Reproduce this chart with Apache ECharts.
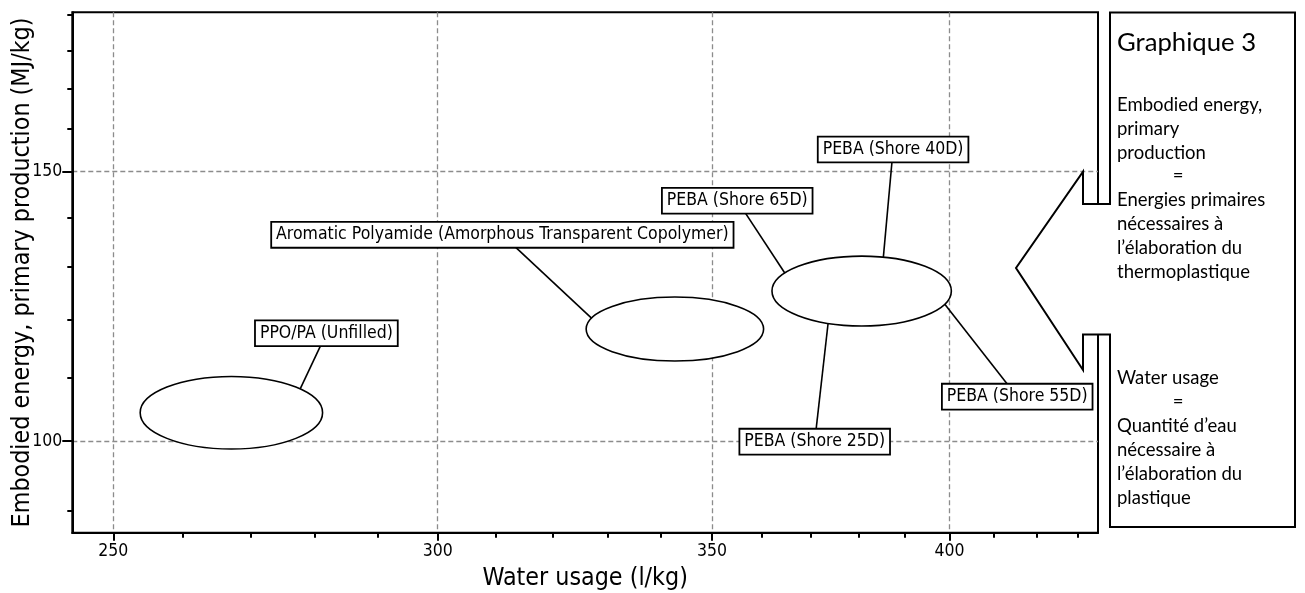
<!DOCTYPE html>
<html><head><meta charset="utf-8">
<script src="https://cdn.jsdelivr.net/npm/echarts@6/dist/echarts.min.js"></script>
<style>html,body{margin:0;padding:0;background:#fff}#c{width:1305px;height:593px}</style>
</head><body><div id="c"></div><script>
// ---------- data ----------
const materials = ['PPO/PA (Unfilled)', 'Aromatic Polyamide (Amorphous Transparent Copolymer)', 'PEBA'];
const waterLow   = [253.8, 326.1, 362.0];
const waterHigh  = [281.2, 360.3, 400.4];
const energyLow  = [98.8, 112.8, 118.9];
const energyHigh = [110.2, 124.2, 132.1];

const labelTexts = ['PPO/PA (Unfilled)', 'Aromatic Polyamide (Amorphous Transparent Copolymer)',
  'PEBA (Shore 40D)', 'PEBA (Shore 65D)', 'PEBA (Shore 55D)', 'PEBA (Shore 25D)'];
const labelMaterial = [0, 1, 2, 2, 2, 2];
const labelWater  = [281.8, 311.1, 387.5, 355.0, 415.5, 370.8];
const labelEnergy = [117.6, 136.4, 155.1, 143.6, 106.9, 99.9];

const xMajorTicks = [250, 300, 350, 400];
const xMinorTicks = [260, 270, 280, 290, 310, 320, 330, 340, 360, 370, 380, 390, 410, 420, 430];
const yMajorTicks = [100, 150];
const yMinorTicks = [90, 110, 120, 130, 140, 160, 170, 180, 190];
const xRange = [244.3, 434.8];
const yRange = [87.1, 190.7];

const xTitle = 'Water usage (l/kg)';
const yTitle = 'Embodied energy, primary production (MJ/kg)';
const panelTitle = 'Graphique 3';
const panelTop = ['Embodied energy,', 'primary', 'production', '=', 'Energies primaires', 'nécessaires à', 'l\u2019élaboration du', 'thermoplastique'];
const panelBottom = ['Water usage', '=', 'Quantité d\u2019eau', 'nécessaire à', 'l\u2019élaboration du', 'plastique'];

// ---------- layout / style ----------
const leaderAngle = [41, 160, 76, 149, -22, 248]; // attach angle on ellipse, degrees
const FONT = "'DejaVu Sans Condensed', 'DejaVu Sans', sans-serif";
const PFONT = "Lato, 'Open Sans', sans-serif";

function ellipseGeom(api, i) {
  const a = api.coord([waterLow[i], energyLow[i]]);
  const b = api.coord([waterHigh[i], energyHigh[i]]);
  return { cx: (a[0] + b[0]) / 2, cy: (a[1] + b[1]) / 2, rx: Math.abs(b[0] - a[0]) / 2, ry: Math.abs(b[1] - a[1]) / 2 };
}

const chart = echarts.init(document.getElementById('c'), null, { renderer: 'canvas' });

const dashed = { show: true, lineStyle: { color: '#8c8c8c', width: 1.3, type: [5, 3] } };

function panelText(lines, y0, step) {
  return lines.map((t, k) => ({
    type: 'text', z: 101,
    x: t === '=' ? 1178 : 1117, y: y0 + k * step,
    style: { text: t, fontSize: 18.5, fontFamily: PFONT, fill: '#000', align: t === '=' ? 'center' : 'left', verticalAlign: 'middle' }
  }));
}

const option = {
  backgroundColor: '#fff',
  animation: false,
  grid: { left: 72.3, right: 207, top: 12.3, bottom: 60.3, show: true, borderColor: '#000', borderWidth: 2, backgroundColor: 'transparent', outerBoundsMode: 'none', containLabel: false },
  xAxis: [{
    type: 'log', logBase: 10, min: xRange[0], max: xRange[1],
    name: xTitle, nameLocation: 'middle', nameGap: 33,
    nameTextStyle: { fontSize: 24.8, fontFamily: FONT, color: '#000' },
    axisLine: { show: true, lineStyle: { color: '#000', width: 2 } },
    axisTick: { show: true, length: 8, lineStyle: { color: '#000', width: 2 }, customValues: xMajorTicks },
    axisLabel: { show: true, margin: 10, fontSize: 17.5, fontFamily: FONT, color: '#000', customValues: xMajorTicks, formatter: v => String(Math.round(v)) },
    splitLine: dashed, minorTick: { show: false }, minorSplitLine: { show: false }
  }, {
    type: 'log', logBase: 10, min: xRange[0], max: xRange[1], position: 'bottom',
    axisLine: { show: false },
    axisTick: { show: true, length: 5, lineStyle: { color: '#000', width: 2 }, customValues: xMinorTicks },
    axisLabel: { show: false }, splitLine: { show: false }
  }],
  yAxis: [{
    type: 'log', logBase: 10, min: yRange[0], max: yRange[1],
    name: yTitle, nameLocation: 'middle', nameGap: 37, nameMoveOverlap: false,
    nameTextStyle: { fontSize: 24.8, fontFamily: FONT, color: '#000' },
    axisLine: { show: true, lineStyle: { color: '#000', width: 2 } },
    axisTick: { show: true, length: 10, lineStyle: { color: '#000', width: 2 }, customValues: yMajorTicks },
    axisLabel: { show: true, margin: 10, fontSize: 17.5, fontFamily: FONT, color: '#000', customValues: yMajorTicks, formatter: v => String(Math.round(v)) },
    splitLine: dashed
  }, {
    type: 'log', logBase: 10, min: yRange[0], max: yRange[1], position: 'left',
    axisLine: { show: false },
    axisTick: { show: true, length: 5, lineStyle: { color: '#000', width: 2 }, customValues: yMinorTicks },
    axisLabel: { show: false }, splitLine: { show: false }
  }],
  series: [{
    type: 'custom', name: 'ranges', coordinateSystem: 'cartesian2d', xAxisIndex: 0, yAxisIndex: 0, z: 3,
    data: materials.map((m, i) => ({ name: m, value: [waterLow[i], energyLow[i], waterHigh[i], energyHigh[i]] })),
    encode: { x: [0, 2], y: [1, 3] },
    renderItem: (params, api) => {
      const g = ellipseGeom(api, params.dataIndex);
      return { type: 'ellipse', shape: g, style: { fill: '#fff', stroke: '#000', lineWidth: 1.6 } };
    }
  }, {
    type: 'custom', name: 'labels', coordinateSystem: 'cartesian2d', xAxisIndex: 0, yAxisIndex: 0, z: 4, clip: false,
    data: labelTexts.map((t, i) => ({ name: t, value: [labelWater[i], labelEnergy[i]] })),
    encode: { x: 0, y: 1 },
    renderItem: (params, api) => {
      const i = params.dataIndex;
      const p = api.coord([api.value(0), api.value(1)]);
      const g = ellipseGeom(api, labelMaterial[i]);
      const t = leaderAngle[i] * Math.PI / 180;
      const ex = g.cx + g.rx * Math.cos(t), ey = g.cy - g.ry * Math.sin(t);
      return {
        type: 'group', children: [
          { type: 'line', shape: { x1: p[0], y1: p[1], x2: ex, y2: ey }, style: { stroke: '#000', lineWidth: 1.6 } },
          { type: 'text', x: p[0], y: p[1], style: {
              text: labelTexts[i], fontSize: 17.5, fontFamily: FONT, fill: '#000', align: 'center', verticalAlign: 'middle',
              lineHeight: 20, backgroundColor: '#fff', borderColor: '#000', borderWidth: 1.8, padding: [2, 4] } }
        ]
      };
    }
  }],
  graphic: [
    { type: 'polygon', z: 100, shape: { points: [[1110, 12.5], [1295, 12.5], [1295, 527], [1110, 527], [1110, 334.5], [1083, 334.5], [1083, 370], [1016, 268], [1083, 171.7], [1083, 204], [1110, 204]] },
      style: { fill: '#fff', stroke: '#000', lineWidth: 2 } },
    { type: 'text', z: 101, x: 1117, y: 43, style: { text: panelTitle, fontSize: 25.7, fontFamily: PFONT, fill: '#000', align: 'left', verticalAlign: 'middle' } },
    ...panelText(panelTop, 105, 23.8),
    ...panelText(panelBottom, 378, 24)
  ]
};
chart.setOption(option);
</script></body></html>
